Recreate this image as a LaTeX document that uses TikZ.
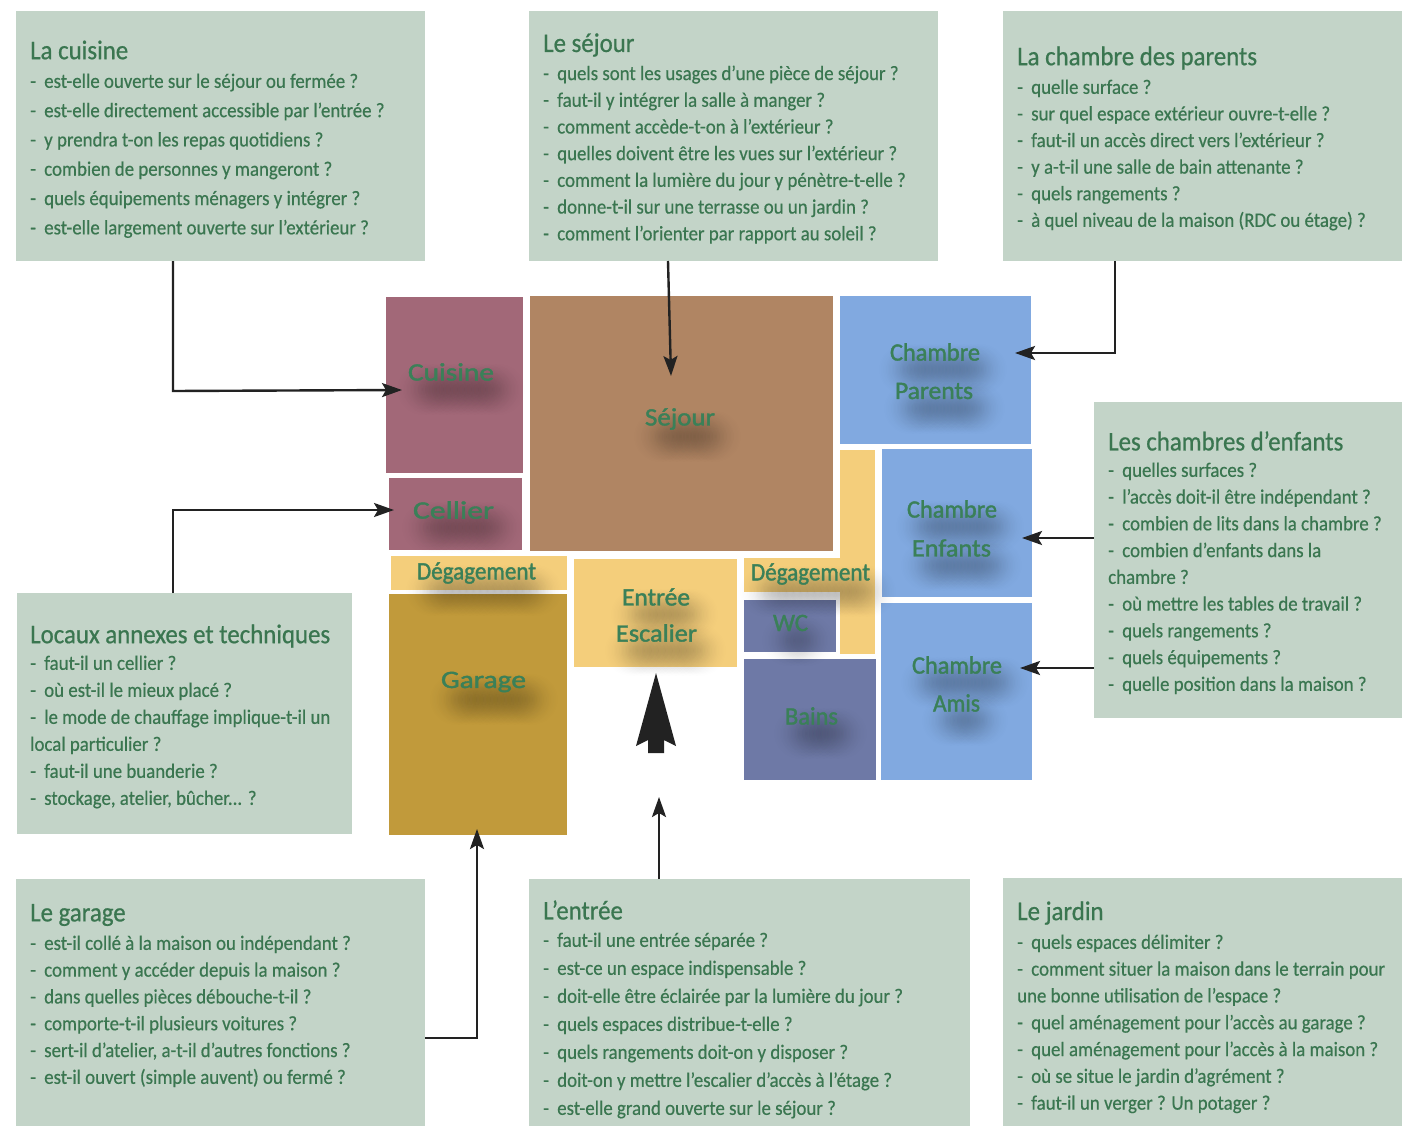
\documentclass[tikz,border=0pt]{standalone}
\usepackage{fontspec}
\setmainfont{Carlito}[FakeStretch=0.92,FakeBold=0.5]
\newfontfamily\titlefont{Carlito}[FakeStretch=0.92,FakeBold=0.7]
\newfontfamily\roomfont{Carlito}[FakeBold=1.5]
\usetikzlibrary{arrows.meta,calc,fadings}
\definecolor{panelbg}{HTML}{C3D4C8}
\definecolor{greentext}{HTML}{3A7650}
\definecolor{roomtextc}{HTML}{3A8058}
\definecolor{cuisinec}{HTML}{A26878}
\definecolor{sejourc}{HTML}{B08563}
\definecolor{chambrec}{HTML}{81A9E0}
\definecolor{degc}{HTML}{F4CE7B}
\definecolor{garagec}{HTML}{C19A3B}
\definecolor{eauc}{HTML}{6E79A6}
\definecolor{inkc}{HTML}{222222}
\tikzfading[name=softblob, inner color=transparent!40, outer color=transparent!100]
\newcommand{\pd}{-\kern4pt\ }
\tikzset{
  x=1pt,y=-1pt,
  panelbox/.style={fill=panelbg,draw=none,inner sep=0pt,outer sep=0pt},
  roombox/.style={draw=none,inner sep=0pt,outer sep=0pt},
  paneltitle/.style={anchor=west,inner sep=0pt,text=greentext,font=\titlefont\fontsize{27}{30}\selectfont},
  panelbody/.style={anchor=north west,inner sep=0pt,align=left,text=greentext},
  roomlabel/.style={inner sep=0pt,text=roomtextc,font=\roomfont\fontsize{25}{28}\selectfont},
  conn/.style={draw=inkc,line width=2.4pt,-{Stealth[length=20pt,width=14pt,inset=4pt]}},
}
% name, style, x0, y0, x1, y1
\newcommand{\rectnode}[6]{%
  \pgfmathsetmacro{\cxv}{(#3+#5)/2}\pgfmathsetmacro{\cyv}{(#4+#6)/2}%
  \pgfmathsetmacro{\wv}{#5-#3}\pgfmathsetmacro{\hv}{#6-#4}%
  \node[#2,minimum width=\wv pt,minimum height=\hv pt] (#1) at (\cxv,\cyv) {};}
% name, x, title y, first line y, spacing, size, lines, title
\newcommand{\paneltext}[8]{%
  \pgfmathsetmacro{\ttv}{#3+1}%
  \node[paneltitle] (#1t) at (#2,\ttv) {#8};
  \pgfmathsetmacro{\tyv}{#4-7.6}%
  \node[panelbody,font=\fontsize{#6}{#5}\selectfont] (#1b) at (#2,\tyv) {\rule{0pt}{14pt}#7};}
% name, cx, cy, width, text
\newcommand{\roomtext}[5]{%
  \pgfmathsetmacro{\sxa}{#2-#4/2+14}\pgfmathsetmacro{\sxb}{#2+#4/2+6}%
  \pgfmathsetmacro{\syv}{#3+17}%
  \pgfmathsetmacro{\sxn}{\sxa+7}%
  \foreach \sx in {\sxa,\sxn,...,\sxb}{\fill[black,opacity=.12,path fading=softblob] (\sx,\syv) circle (26);}
  \node[roomlabel] (#1) at (#2,#3) {\resizebox{#4pt}{\height}{#5}};}
\begin{document}
\begin{tikzpicture}
\useasboundingbox (0,0) rectangle (1402,1126);
\fill[white] (0,0) rectangle (1402,1126);
% panels
\rectnode{pCuisine}{panelbox}{16}{11}{425}{261}
\rectnode{pSejour}{panelbox}{529}{11}{938}{261}
\rectnode{pParents}{panelbox}{1003}{11}{1402}{261}
\rectnode{pEnfants}{panelbox}{1094}{402}{1402}{718}
\rectnode{pLocaux}{panelbox}{17}{593}{352}{834}
\rectnode{pGarage}{panelbox}{16}{879}{425}{1126}
\rectnode{pEntree}{panelbox}{529}{879}{970}{1126}
\rectnode{pJardin}{panelbox}{1003}{878}{1402}{1126}
% rooms
\rectnode{rCuisine}{roombox,fill=cuisinec}{386}{297}{523}{473}
\rectnode{rCellier}{roombox,fill=cuisinec}{389}{478}{522}{550}
\rectnode{rSejour}{roombox,fill=sejourc}{530}{296}{833}{551}
\rectnode{rParents}{roombox,fill=chambrec}{840}{296}{1031}{444}
\rectnode{rEnfants}{roombox,fill=chambrec}{882}{449}{1032}{597}
\rectnode{rAmis}{roombox,fill=chambrec}{881}{603}{1032}{780}
\rectnode{rDegL}{roombox,fill=degc}{391}{556}{567}{590}
\rectnode{rGarage}{roombox,fill=garagec}{389}{594}{567}{835}
\rectnode{rEntree}{roombox,fill=degc}{574}{559}{737}{667}
\rectnode{rDegR}{roombox,fill=degc}{744}{558}{875}{592}
\rectnode{rDegV}{roombox,fill=degc}{840}{450}{875}{654}
\rectnode{rWC}{roombox,fill=eauc}{744}{600}{836}{652}
\rectnode{rBains}{roombox,fill=eauc}{744}{659}{876}{780}
% room labels
\roomtext{lCuisine}{451}{372}{86}{Cuisine}
\roomtext{lCellier}{453.5}{510}{81}{Cellier}
\roomtext{lSejour}{680}{419}{70}{Séjour}
\roomtext{lParentsA}{935}{352}{90}{Chambre}
\roomtext{lParentsB}{934}{391}{78}{Parents}
\roomtext{lEnfantsA}{952}{509}{90}{Chambre}
\roomtext{lEnfantsB}{951.5}{548}{79}{Enfants}
\roomtext{lAmisA}{957}{665}{90}{Chambre}
\roomtext{lAmisB}{956.5}{703}{47}{Amis}
\roomtext{lDegL}{476.5}{573}{119}{Dégagement}
\roomtext{lDegR}{810.5}{574}{119}{Dégagement}
\roomtext{lGarage}{483.5}{682}{85}{Garage}
\roomtext{lEntree}{656}{597}{68}{Entrée}
\roomtext{lEscalier}{656.5}{633}{81}{Escalier}
\roomtext{lWC}{790.5}{623}{35}{WC}
\roomtext{lBains}{811.5}{716}{53}{Bains}
% connector free ends
\coordinate (aCuisine) at (402,390);
\coordinate (aSejour) at (671,376);
\coordinate (aParents) at (1015,353);
\coordinate (aEnfants) at (1022,538);
\coordinate (aAmis) at (1020,668);
\coordinate (aCellier) at (394,510);
\coordinate (aGarage) at (477,829);
\coordinate (aEntree) at (659,797);
\draw[conn] ($(pCuisine.south west)+(157,0)$) -- ++(0,130) -- (aCuisine);
\draw[conn] ($(pSejour.south west)+(139,0)$) -- (aSejour);
\draw[conn] ($(pParents.south west)+(112,0)$) |- (aParents);
\draw[conn] (pEnfants.west |- aEnfants) -- (aEnfants);
\draw[conn] (pEnfants.west |- aAmis) -- (aAmis);
\draw[conn] ($(pLocaux.north west)+(156,0)$) |- (aCellier);
\draw[conn] ($(pGarage.south east)+(0,-88)$) -| (aGarage);
\draw[conn] (pEntree.north -| aEntree) -- (aEntree);
% north arrow
\fill[inkc] (656,673) -- (676,746) -- (664,740) -- (664,753) -- (648,753) -- (648,740) -- (636,746) -- cycle;
% panel texts
\paneltext{tCuisine}{30}{49}{81}{29.3}{20.5}{%
\pd est-elle ouverte sur le séjour ou fermée ?\\
\pd est-elle directement accessible par l’entrée ?\\
\pd y prendra t-on les repas quotidiens ?\\
\pd combien de personnes y mangeront ?\\
\pd quels équipements ménagers y intégrer ?\\
\pd est-elle largement ouverte sur l’extérieur ?}{La cuisine}
\paneltext{tSejour}{543}{44}{73}{26.7}{20.5}{%
\pd quels sont les usages d’une pièce de séjour ?\\
\pd faut-il y intégrer la salle à manger ?\\
\pd comment accède-t-on à l’extérieur ?\\
\pd quelles doivent être les vues sur l’extérieur ?\\
\pd comment la lumière du jour y pénètre-t-elle ?\\
\pd donne-t-il sur une terrasse ou un jardin ?\\
\pd comment l’orienter par rapport au soleil ?}{Le séjour}
\paneltext{tParents}{1017}{57}{87}{26.6}{20.5}{%
\pd quelle surface ?\\
\pd sur quel espace extérieur ouvre-t-elle ?\\
\pd faut-il un accès direct vers l’extérieur ?\\
\pd y a-t-il une salle de bain attenante ?\\
\pd quels rangements ?\\
\pd à quel niveau de la maison (RDC ou étage) ?}{La chambre des parents}
\paneltext{tEnfants}{1108}{440}{470}{26.75}{20.5}{%
\pd quelles surfaces ?\\
\pd l’accès doit-il être indépendant ?\\
\pd combien de lits dans la chambre ?\\
\pd combien d’enfants dans la\\
chambre ?\\
\pd où mettre les tables de travail ?\\
\pd quels rangements ?\\
\pd quels équipements ?\\
\pd quelle position dans la maison ?}{Les chambres d’enfants}
\paneltext{tLocaux}{30}{635}{663}{27}{20.5}{%
\pd faut-il un cellier ?\\
\pd où est-il le mieux placé ?\\
\pd le mode de chauffage implique-t-il un\\
local particulier ?\\
\pd faut-il une buanderie ?\\
\pd stockage, atelier, bûcher... ?}{Locaux annexes et techniques}
\paneltext{tGarage}{30}{914}{943}{26.8}{20.5}{%
\pd est-il collé à la maison ou indépendant ?\\
\pd comment y accéder depuis la maison ?\\
\pd dans quelles pièces débouche-t-il ?\\
\pd comporte-t-il plusieurs voitures ?\\
\pd sert-il d’atelier, a-t-il d’autres fonctions ?\\
\pd est-il ouvert (simple auvent) ou fermé ?}{Le garage}
\paneltext{tEntree}{543}{909}{940}{28}{20.5}{%
\pd faut-il une entrée séparée ?\\
\pd est-ce un espace indispensable ?\\
\pd doit-elle être éclairée par la lumière du jour ?\\
\pd quels espaces distribue-t-elle ?\\
\pd quels rangements doit-on y disposer ?\\
\pd doit-on y mettre l’escalier d’accès à l’étage ?\\
\pd est-elle grand ouverte sur le séjour ?}{L’entrée}
\paneltext{tJardin}{1017}{912}{942}{26.8}{20.5}{%
\pd quels espaces délimiter ?\\
\pd comment situer la maison dans le terrain pour\\
une bonne utilisation de l’espace ?\\
\pd quel aménagement pour l’accès au garage ?\\
\pd quel aménagement pour l’accès à la maison ?\\
\pd où se situe le jardin d’agrément ?\\
\pd faut-il un verger ? Un potager ?}{Le jardin}
\end{tikzpicture}
\end{document}
